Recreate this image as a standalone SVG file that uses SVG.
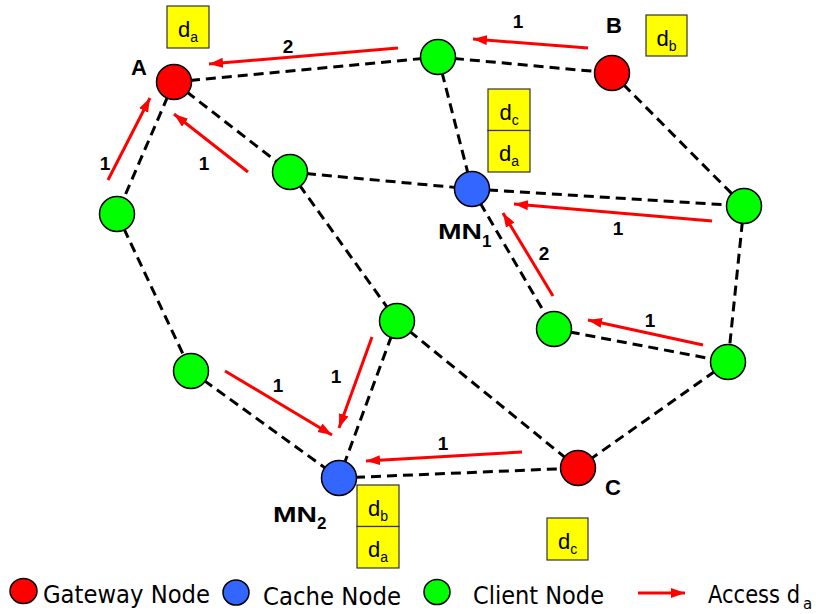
<svg xmlns="http://www.w3.org/2000/svg" width="816" height="614" viewBox="0 0 816 614">
<style>
.edge{stroke:#000;stroke-width:3;stroke-dasharray:10 6;fill:none}
.arr{stroke:#f00;stroke-width:3;fill:none;marker-end:url(#ah)}
.gw{fill:#f00;stroke:#000;stroke-width:1.5}
.cache{fill:#3366ff;stroke:#000;stroke-width:1.5}
.client{fill:#00ff00;stroke:#000;stroke-width:1.5}
.box{fill:#ffff00;stroke:#333;stroke-width:1.2}
.bt{font-family:"Liberation Sans",Arial,sans-serif;font-size:22px;text-anchor:middle;fill:#000}
.sub{font-size:14px}
.lbl{font-family:"Liberation Sans",Arial,sans-serif;font-size:22px;font-weight:bold;fill:#000}
.lsub{font-family:"Liberation Sans",Arial,sans-serif;font-size:17px;font-weight:bold;fill:#000}
.num{font-family:"Liberation Sans",Arial,sans-serif;font-size:19px;font-weight:bold;fill:#000;text-anchor:middle}
.leg{font-family:"DejaVu Sans","Liberation Sans",sans-serif;font-size:24px;fill:#000}
.legsub{font-size:15px}
</style>
<defs>
<marker id="ah" markerUnits="userSpaceOnUse" markerWidth="16" markerHeight="12" refX="14" refY="5" orient="auto">
<path d="M0,0 L14,5 L0,10 z" fill="#f00"/>
</marker>
</defs>
<g id="connectors">
<line class="edge" x1="174" y1="82" x2="438" y2="57"/>
<line class="edge" x1="438" y1="57" x2="612" y2="73"/>
<line class="edge" x1="174" y1="82" x2="117" y2="214"/>
<line class="edge" x1="174" y1="82" x2="290" y2="172"/>
<line class="edge" x1="438" y1="57" x2="472" y2="189"/>
<line class="edge" x1="290" y1="172" x2="472" y2="189"/>
<line class="edge" x1="472" y1="189" x2="744" y2="206"/>
<line class="edge" x1="612" y1="73" x2="744" y2="206"/>
<line class="edge" x1="472" y1="189" x2="554" y2="329"/>
<line class="edge" x1="744" y1="206" x2="728" y2="362"/>
<line class="edge" x1="554" y1="329" x2="728" y2="362"/>
<line class="edge" x1="728" y1="362" x2="578" y2="468"/>
<line class="edge" x1="290" y1="172" x2="397" y2="321"/>
<line class="edge" x1="397" y1="321" x2="578" y2="468"/>
<line class="edge" x1="397" y1="321" x2="339" y2="478"/>
<line class="edge" x1="117" y1="214" x2="191" y2="371"/>
<line class="edge" x1="191" y1="371" x2="339" y2="478"/>
<line class="edge" x1="339" y1="478" x2="578" y2="468"/>
<line class="arr" x1="398" y1="48" x2="209" y2="64"/>
<line class="arr" x1="588" y1="48" x2="473" y2="39"/>
<line class="arr" x1="108" y1="180" x2="150" y2="98"/>
<line class="arr" x1="248" y1="172" x2="174" y2="114"/>
<line class="arr" x1="712" y1="221" x2="514" y2="204"/>
<line class="arr" x1="553" y1="296" x2="503" y2="213"/>
<line class="arr" x1="703" y1="345" x2="588" y2="320"/>
<line class="arr" x1="225" y1="371" x2="332" y2="435"/>
<line class="arr" x1="372" y1="337" x2="339" y2="428"/>
<line class="arr" x1="522" y1="452" x2="366" y2="461"/>
</g>
<g id="arrow-labels">
<text class="num" x="288" y="53">2</text>
<text class="num" x="518" y="28">1</text>
<text class="num" x="105" y="170">1</text>
<text class="num" x="204" y="170">1</text>
<text class="num" x="618" y="235">1</text>
<text class="num" x="544" y="260">2</text>
<text class="num" x="650" y="327">1</text>
<text class="num" x="278" y="392">1</text>
<text class="num" x="336" y="383">1</text>
<text class="num" x="443" y="450">1</text>
</g>
<g id="node-A">
<circle class="gw" cx="174" cy="82" r="17.5"/>
<text class="lbl" x="131" y="75">A</text>
</g>
<g id="node-B">
<circle class="gw" cx="612" cy="73" r="17.5"/>
<text class="lbl" x="606" y="33">B</text>
</g>
<g id="node-C">
<circle class="gw" cx="578" cy="468" r="17.5"/>
<text class="lbl" x="605" y="495">C</text>
</g>
<g id="node-MN1">
<circle class="cache" cx="472" cy="189" r="17.5"/>
<text class="lbl" x="438" y="239" textLength="44" lengthAdjust="spacingAndGlyphs">MN</text>
<text class="lsub" x="482" y="247">1</text>
</g>
<g id="node-MN2">
<circle class="cache" cx="339" cy="478" r="17.5"/>
<text class="lbl" x="273" y="522" textLength="44" lengthAdjust="spacingAndGlyphs">MN</text>
<text class="lsub" x="317" y="529">2</text>
</g>
<g id="node-G1"><circle class="client" cx="438" cy="57" r="17.5"/></g>
<g id="node-GL1"><circle class="client" cx="290" cy="172" r="17.5"/></g>
<g id="node-GLeft"><circle class="client" cx="117" cy="214" r="17.5"/></g>
<g id="node-GLL"><circle class="client" cx="191" cy="371" r="17.5"/></g>
<g id="node-GM"><circle class="client" cx="397" cy="321" r="17.5"/></g>
<g id="node-GR"><circle class="client" cx="744" cy="206" r="17.5"/></g>
<g id="node-GCR"><circle class="client" cx="554" cy="329" r="17.5"/></g>
<g id="node-GRL"><circle class="client" cx="728" cy="362" r="17.5"/></g>
<g id="box-da-A">
<rect class="box" x="167" y="6" width="42" height="42"/>
<text class="bt" x="188" y="37">d<tspan class="sub" dy="5">a</tspan></text>
</g>
<g id="box-db-B">
<rect class="box" x="646" y="15" width="41" height="41"/>
<text class="bt" x="666.5" y="46">d<tspan class="sub" dy="5">b</tspan></text>
</g>
<g id="box-MN1">
<rect class="box" x="488" y="89" width="42" height="41.5"/>
<rect class="box" x="488" y="130.5" width="42" height="41.5"/>
<text class="bt" x="509" y="120">d<tspan class="sub" dy="5">c</tspan></text>
<text class="bt" x="509" y="161">d<tspan class="sub" dy="5">a</tspan></text>
</g>
<g id="box-MN2">
<rect class="box" x="357" y="485" width="42" height="41.5"/>
<rect class="box" x="357" y="526.5" width="42" height="41.5"/>
<text class="bt" x="378" y="516">d<tspan class="sub" dy="5">b</tspan></text>
<text class="bt" x="378" y="557">d<tspan class="sub" dy="5">a</tspan></text>
</g>
<g id="box-dc-C">
<rect class="box" x="547" y="518" width="41" height="42"/>
<text class="bt" x="567.5" y="549">d<tspan class="sub" dy="5">c</tspan></text>
</g>
<g id="legend">
<ellipse class="gw" cx="23.5" cy="591" rx="13.5" ry="12.5"/>
<text class="leg" x="43" y="603" textLength="167" lengthAdjust="spacingAndGlyphs">Gateway Node</text>
<ellipse class="cache" cx="236" cy="592.5" rx="13" ry="12.5"/>
<text class="leg" x="263" y="605" textLength="138" lengthAdjust="spacingAndGlyphs">Cache Node</text>
<ellipse class="client" cx="437" cy="592" rx="13" ry="12.5"/>
<text class="leg" x="473" y="604" textLength="131" lengthAdjust="spacingAndGlyphs">Client Node</text>
<line class="arr" x1="638" y1="593" x2="685" y2="593"/>
<text class="leg" x="708" y="603"><tspan textLength="92" lengthAdjust="spacingAndGlyphs">Access d</tspan><tspan class="legsub" x="803" dy="6">a</tspan></text>
</g>
</svg>
